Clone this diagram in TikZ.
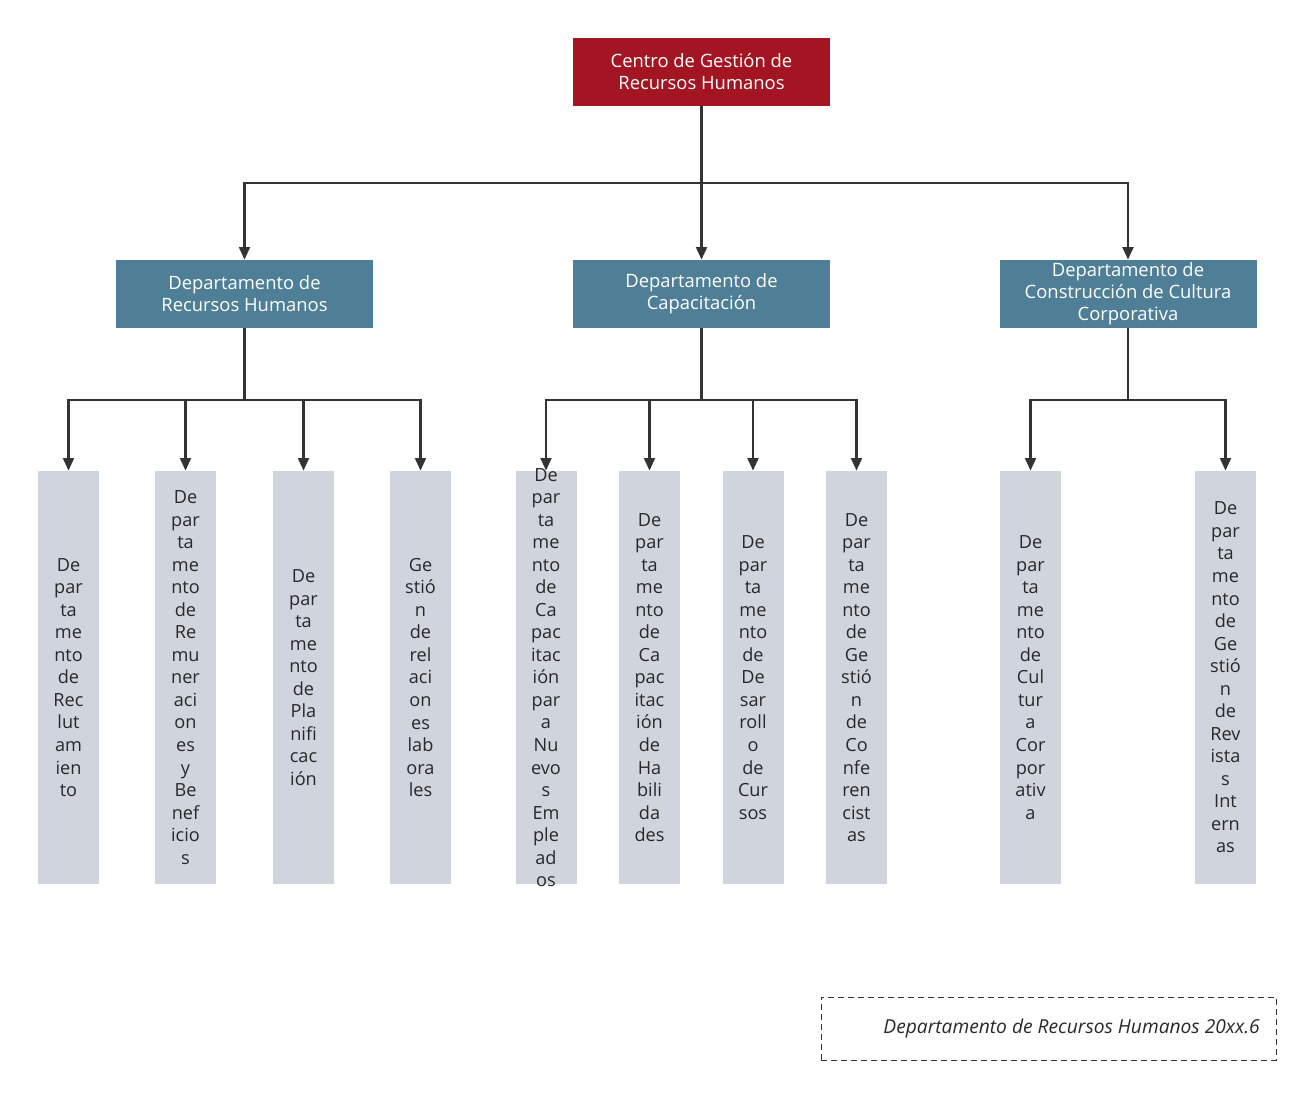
\documentclass[tikz,border=0pt]{standalone}
\usepackage{fontspec}
\setmainfont{Open Sans}
\usetikzlibrary{arrows.meta}
\definecolor{topred}{RGB}{163,21,34}
\definecolor{midteal}{RGB}{78,127,151}
\definecolor{leafgray}{RGB}{207,212,221}
\definecolor{linegray}{RGB}{51,51,51}
\definecolor{leaftext}{RGB}{40,40,40}
\begin{document}
\begin{tikzpicture}[x=0.75pt,y=-0.75pt,
  topbox/.style={fill=topred,text=white,minimum width=192.75pt,minimum height=51pt,inner sep=0pt,align=center,font=\fontsize{13.8pt}{16.5pt}\selectfont},
  midbox/.style={fill=midteal,text=white,minimum width=192.75pt,minimum height=51pt,inner sep=0pt,align=center,font=\fontsize{13.8pt}{16.5pt}\selectfont},
  leafbox/.style={fill=leafgray,minimum width=45.75pt,minimum height=309.75pt,inner sep=0pt},
  leaftxt/.style={text=leaftext,align=center,inner sep=0pt,font=\fontsize{13.6pt}{16.9pt}\selectfont},
  conn/.style={draw=linegray,line width=2.1pt,-{Triangle[length=9.5pt,width=8pt]}},
  plain/.style={draw=linegray,line width=2.1pt}
]
\useasboundingbox (0,0) rectangle (1311,1096);
% top
\node[topbox] (top) at (701.5,72) {Centro de Gestión de\\Recursos Humanos};
% level 2
\node[midbox] (d1) at (244.5,294) {Departamento de\\Recursos Humanos};
\node[midbox] (d2) at (701.5,294) {Departamento de\\Capacitación};
\node[midbox] (d3) at (1128,294) {Departamento de\\Construcción de Cultura\\Corporativa};
% level 3 boxes
\node[leafbox] (a1) at (68.5,677.5) {};
\node[leafbox] (a2) at (185.5,677.5) {};
\node[leafbox] (a3) at (303.5,677.5) {};
\node[leafbox] (a4) at (420.5,677.5) {};
\node[leafbox] (b1) at (546,677.5) {};
\node[leafbox] (b2) at (649.5,677.5) {};
\node[leafbox] (b3) at (753,677.5) {};
\node[leafbox] (b4) at (856.5,677.5) {};
\node[leafbox] (c1) at (1030.5,677.5) {};
\node[leafbox] (c2) at (1225.5,677.5) {};
% level 3 texts
\node[leaftxt] (ta1) at (a1.center) {De\\par\\ta\\me\\nto\\de\\Rec\\lut\\am\\ien\\to};
\node[leaftxt] (ta2) at (a2.center) {De\\par\\ta\\me\\nto\\de\\Re\\mu\\ner\\aci\\on\\es\\y\\Be\\nef\\icio\\s};
\node[leaftxt] (ta3) at (a3.center) {De\\par\\ta\\me\\nto\\de\\Pla\\nifi\\cac\\ión};
\node[leaftxt] (ta4) at (a4.center) {Ge\\stió\\n\\de\\rel\\aci\\on\\es\\lab\\ora\\les};
\node[leaftxt] (tb1) at (b1.center) {De\\par\\ta\\me\\nto\\de\\Ca\\pac\\itac\\ión\\par\\a\\Nu\\evo\\s\\Em\\ple\\ad\\os};
\node[leaftxt] (tb2) at (b2.center) {De\\par\\ta\\me\\nto\\de\\Ca\\pac\\itac\\ión\\de\\Ha\\bili\\da\\des};
\node[leaftxt] (tb3) at (b3.center) {De\\par\\ta\\me\\nto\\de\\De\\sar\\roll\\o\\de\\Cur\\sos};
\node[leaftxt] (tb4) at (b4.center) {De\\par\\ta\\me\\nto\\de\\Ge\\stió\\n\\de\\Co\\nfe\\ren\\cist\\as};
\node[leaftxt] (tc1) at (c1.center) {De\\par\\ta\\me\\nto\\de\\Cul\\tur\\a\\Cor\\por\\ativ\\a};
\node[leaftxt] (tc2) at (c2.center) {De\\par\\ta\\me\\nto\\de\\Ge\\stió\\n\\de\\Rev\\ista\\s\\Int\\ern\\as};
% junctions
\coordinate (j0) at (701.5,183);
\coordinate (j1) at (244.5,400);
\coordinate (j2) at (701.5,400);
\coordinate (j3) at (1128,400);
% connectors top -> level 2
\draw[plain] (top.south) -- (j0);
\draw[conn] (j0) -| (d1.north);
\draw[conn] (j0) -- (d2.north);
\draw[conn] (j0) -| (d3.north);
% level 2 -> level 3
\draw[plain] (d1.south) -- (j1);
\draw[conn] (j1) -| (a1.north);
\draw[conn] (j1) -| (a2.north);
\draw[conn] (j1) -| (a3.north);
\draw[conn] (j1) -| (a4.north);
\draw[plain] (d2.south) -- (j2);
\draw[conn] (j2) -| (b1.north);
\draw[conn] (j2) -| (b2.north);
\draw[conn] (j2) -| (b3.north);
\draw[conn] (j2) -| (b4.north);
\draw[plain] (d3.south) -- (j3);
\draw[conn] (j3) -| (c1.north);
\draw[conn] (j3) -| (c2.north);
% footer
\node[draw=linegray,line width=0.75pt,dash pattern=on 4.5pt off 3pt,minimum width=341.25pt,minimum height=47.25pt,inner sep=0pt] (foot) at (1048.5,1028.5) {};
\node[anchor=east,inner sep=0pt,text=leaftext,font=\fontsize{14.4pt}{16pt}\selectfont\itshape] (foottxt) at (1260,1028) {Departamento de Recursos Humanos 20xx.6};
\end{tikzpicture}
\end{document}
